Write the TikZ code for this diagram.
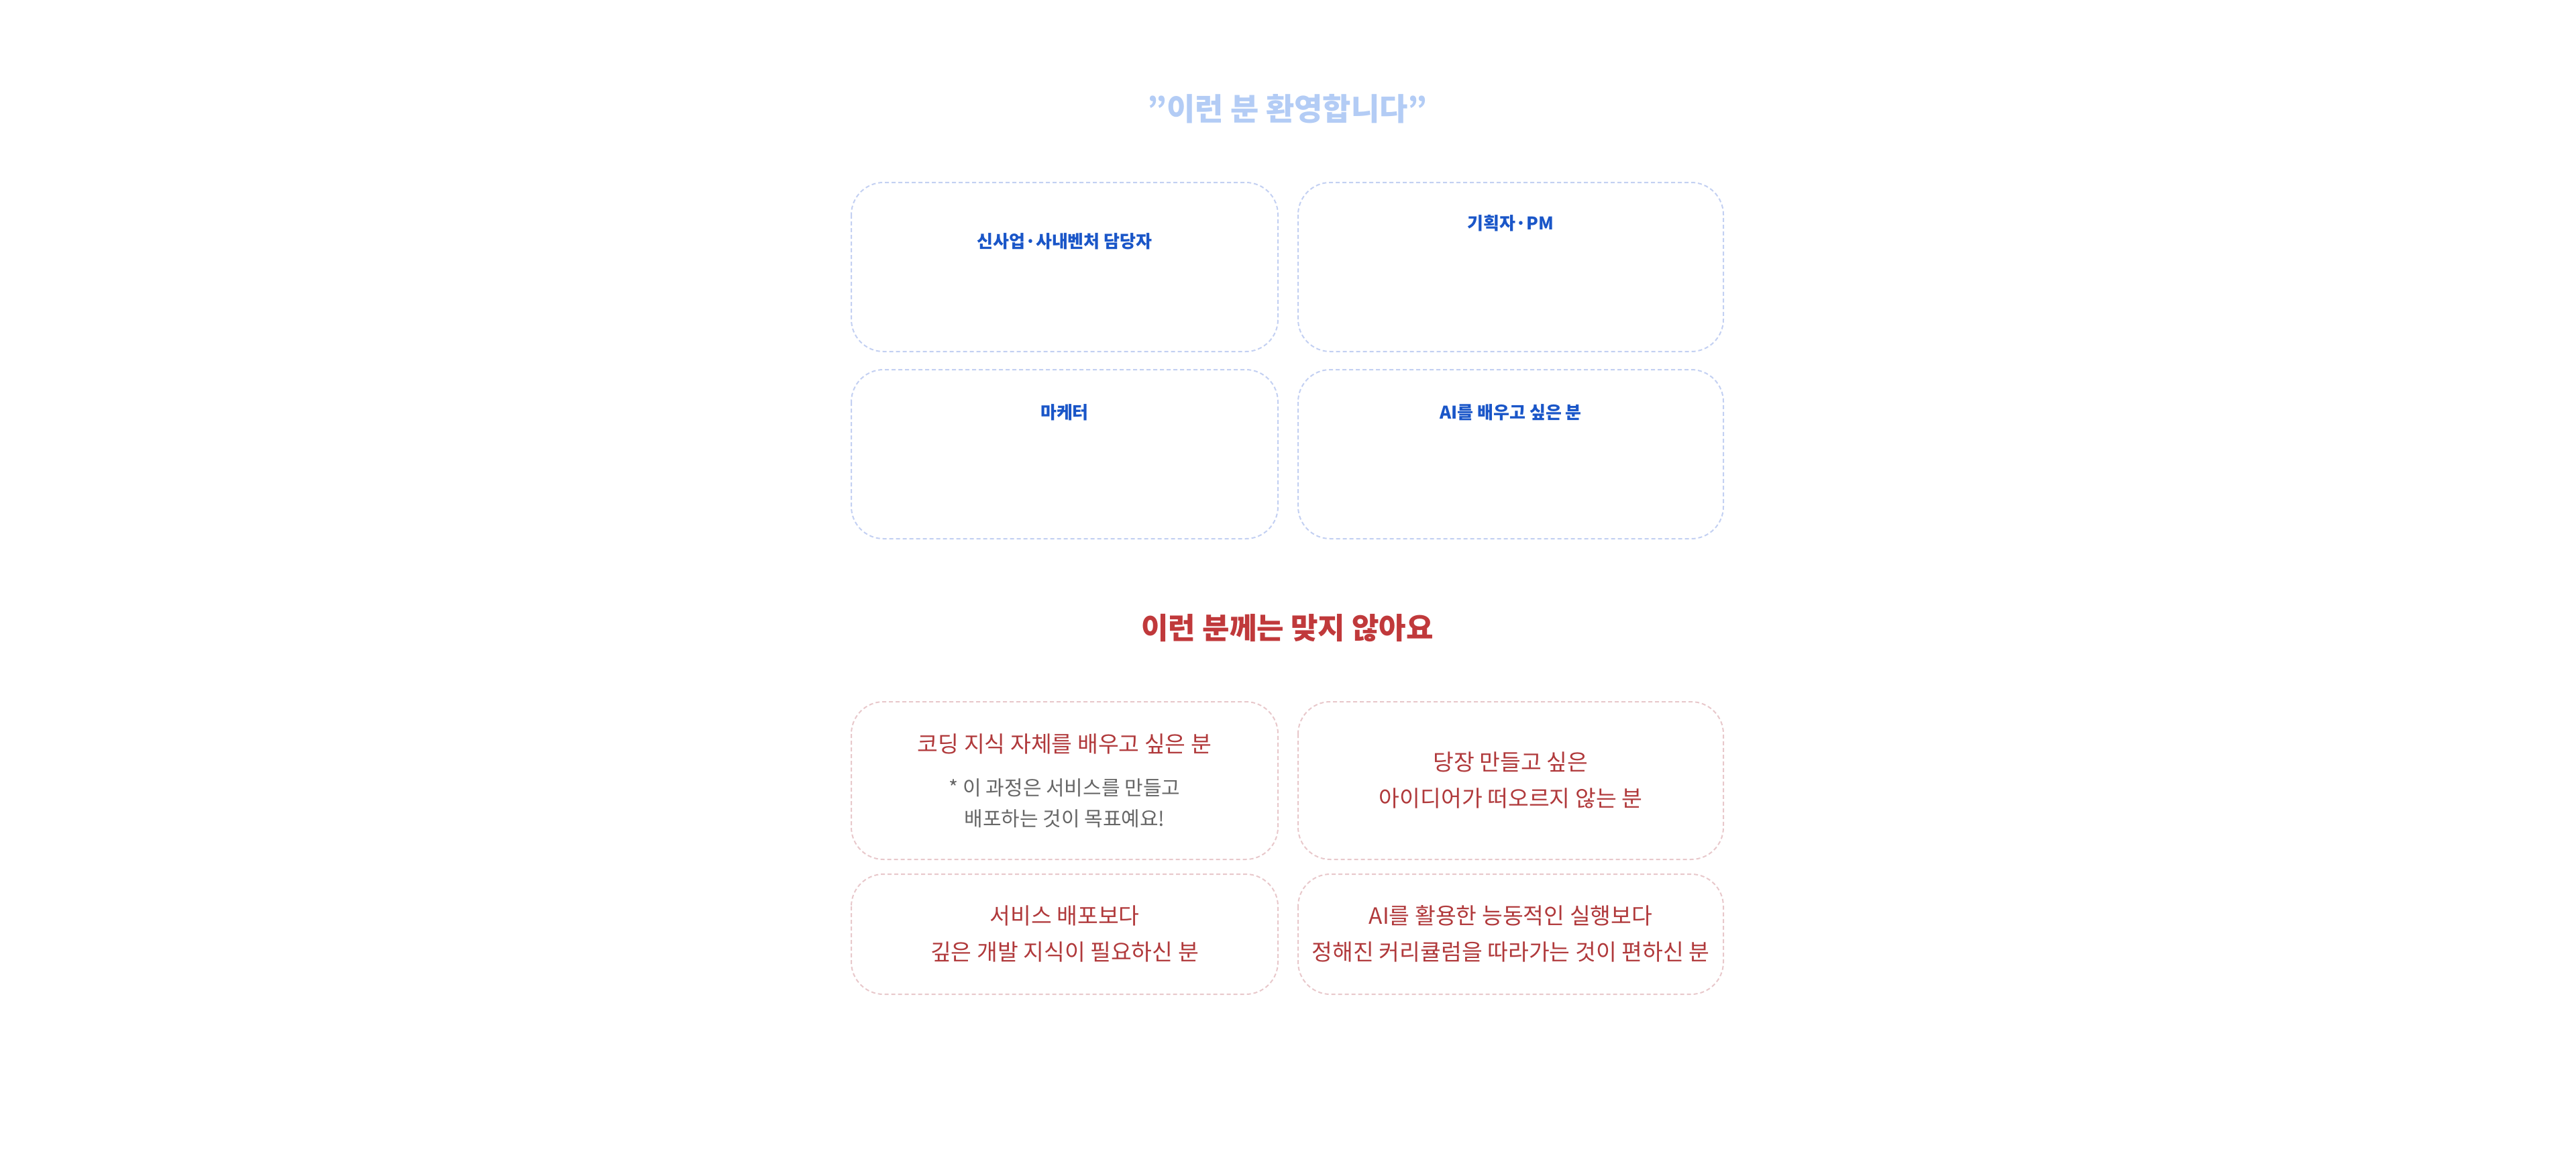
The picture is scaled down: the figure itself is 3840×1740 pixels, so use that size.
\documentclass[tikz,border=0pt]{standalone}
\usepackage{fontspec}
\setmainfont{Noto Sans CJK KR}
\begin{document}
\begin{tikzpicture}[x=1pt,y=-1pt,
  bb/.style={draw=bbd, dash pattern=on 6pt off 4pt, line width=2pt, rounded corners=48pt},
  rb/.style={draw=rbd, dash pattern=on 6pt off 4pt, line width=2pt, rounded corners=48pt},
  bl/.style={text=blu, font=\fontsize{26}{32}\selectfont\bfseries},
  rl/.style={text=rdt, font=\fontsize{33.5}{54}\selectfont, align=center},
  gl/.style={text=gry, font=\fontsize{30}{46}\selectfont, align=center}]
\definecolor{blu}{HTML}{1A56C8}
\definecolor{rdt}{HTML}{B0393B}
\definecolor{gry}{HTML}{666666}
\definecolor{tb}{HTML}{B3CCF5}
\definecolor{tr}{HTML}{C0393B}
\definecolor{bbd}{HTML}{C3D0F2}
\definecolor{rbd}{HTML}{E8C8CB}
\useasboundingbox (0,0) rectangle (3840,1740);
\node[text=tb, font=\fontsize{46}{56}\selectfont\bfseries] (t1) at (1919,162) {"이런 분 환영합니다"};
\draw[bb] (1269,272) rectangle (1905,524) coordinate (b1);
\draw[bb] (1935,272) rectangle (2569,524) coordinate (b2);
\draw[bb] (1269,551) rectangle (1905,803) coordinate (b3);
\draw[bb] (1935,551) rectangle (2569,803) coordinate (b4);
\node[bl] (l1) at (1587,360) {신사업·사내벤처 담당자};
\node[bl] (l2) at (2252,333) {기획자·PM};
\node[bl] (l3) at (1587,615) {마케터};
\node[bl] (l4) at (2252,615) {AI를 배우고 싶은 분};
\node[text=tr, font=\fontsize{44}{56}\selectfont\bfseries] (t2) at (1919,936) {이런 분께는 맞지 않아요};
\draw[rb] (1269,1046) rectangle (1905,1281) coordinate (c1);
\draw[rb] (1935,1046) rectangle (2569,1281) coordinate (c2);
\draw[rb] (1269,1303) rectangle (1905,1482) coordinate (c3);
\draw[rb] (1935,1303) rectangle (2569,1482) coordinate (c4);
\node[rl] (m1) at (1587,1109) {코딩 지식 자체를 배우고 싶은 분};
\node[gl] (n1) at (1587,1197) {* 이 과정은 서비스를 만들고\\배포하는 것이 목표예요!};
\node[rl] (m2) at (2252,1163) {당장 만들고 싶은\\아이디어가 떠오르지 않는 분};
\node[rl] (m3) at (1587,1392) {서비스 배포보다\\깊은 개발 지식이 필요하신 분};
\node[rl] (m4) at (2252,1392) {AI를 활용한 능동적인 실행보다\\정해진 커리큘럼을 따라가는 것이 편하신 분};
\end{tikzpicture}
\end{document}
